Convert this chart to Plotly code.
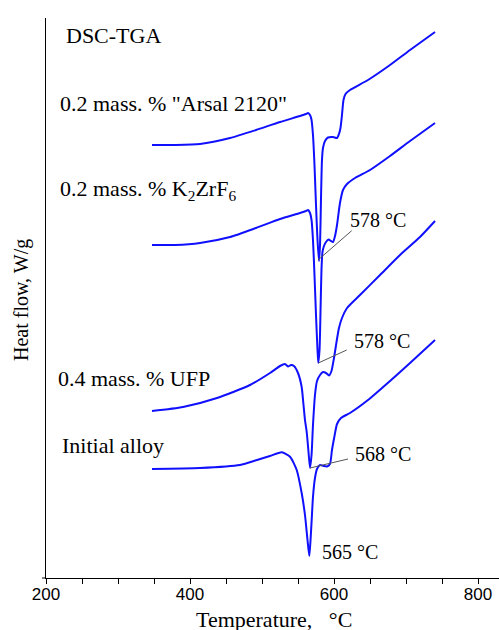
import plotly.graph_objects as go

# ---- data (temperature in °C, heat flow in arbitrary W/g units) ----
arsal_T = [347.2, 379.2, 413.9, 455.6, 491.7, 525.0, 552.8, 561.1, 563.9, 566.7, 568.8, 570.8,
           572.9, 575.0, 577.1, 579.2, 580.6, 581.9, 583.3, 584.7, 587.5, 591.7, 598.6, 604.2,
           606.9, 609.0, 611.1, 613.2, 616.0, 622.2, 647.2, 677.8, 705.6, 740.3]
arsal_H = [4.33, 4.33, 4.34, 4.40, 4.48, 4.56, 4.62, 4.64, 4.65, 4.63, 4.58, 4.43,
           4.13, 3.73, 3.38, 3.17, 3.33, 3.78, 4.18, 4.30, 4.37, 4.405, 4.41, 4.40,
           4.44, 4.50, 4.63, 4.78, 4.84, 4.88, 4.98, 5.13, 5.28, 5.46]

kzr_T = [347.2, 379.2, 413.9, 455.6, 491.7, 525.0, 552.8, 561.1, 563.9, 566.7, 568.8, 570.8,
         572.9, 575.0, 577.1, 578.2, 579.9, 581.3, 582.6, 584.0, 586.1, 588.9, 592.4, 595.8,
         598.6, 601.4, 604.2, 608.3, 612.5, 618.1, 629.2, 650.0, 677.8, 705.6, 740.3]
kzr_H = [3.33, 3.33, 3.35, 3.41, 3.50, 3.59, 3.65, 3.67, 3.68, 3.65, 3.58, 3.38,
         3.03, 2.63, 2.28, 2.15, 2.28, 2.68, 3.08, 3.26, 3.32, 3.36, 3.385, 3.37,
         3.36, 3.42, 3.53, 3.75, 3.88, 3.94, 4.00, 4.08, 4.22, 4.37, 4.55]

ufp_T = [347.2, 390.3, 437.5, 483.3, 511.1, 525.0, 531.9, 536.1, 540.3, 544.4, 550.0, 555.1,
         557.4, 559.7, 562.1, 564.6, 566.7, 568.8, 570.8, 573.6, 576.4, 580.6, 584.7, 588.9,
         593.1, 596.5, 600.0, 603.5, 606.9, 611.1, 618.1, 636.1, 663.9, 691.7, 719.4, 740.3]
ufp_H = [1.67, 1.71, 1.80, 1.93, 2.05, 2.12, 2.14, 2.115, 2.13, 2.12, 2.05, 1.91,
         1.75, 1.58, 1.46, 1.26, 1.10, 1.23, 1.53, 1.83, 1.97, 2.03, 2.06, 2.05,
         2.025, 2.07, 2.20, 2.36, 2.50, 2.60, 2.70, 2.83, 3.03, 3.23, 3.41, 3.57]

init_T = [347.2, 413.9, 469.4, 493.1, 511.1, 527.4, 538.9, 548.2, 555.1, 559.7, 563.2, 565.7,
          567.4, 569.0, 570.8, 573.6, 576.4, 580.6, 585.4, 590.3, 594.4, 597.2, 600.7, 604.2,
          609.7, 622.2, 647.2, 677.8, 705.6, 740.3]
init_H = [1.09, 1.10, 1.13, 1.18, 1.22, 1.257, 1.213, 1.08, 0.85, 0.63, 0.38, 0.22,
          0.38, 0.58, 0.81, 1.00, 1.09, 1.13, 1.12, 1.115, 1.14, 1.28, 1.42, 1.54,
          1.60, 1.65, 1.78, 1.97, 2.15, 2.38]

series_names = ['0.2 mass. % "Arsal 2120"', '0.2 mass. % K<sub>2</sub>ZrF<sub>6</sub>',
                '0.4 mass. % UFP', 'Initial alloy']

peak_labels = ["578 °C", "578 °C", "568 °C", "565 °C"]
peak_T = [577.8, 578.2, 566.7, 565.7]
peak_H = [3.18, 2.15, 1.10, 0.22]

x_major_dtick = 200
x_minor_dtick = 50

# ---- figure ----
BLUE = "#1010ff"
SERIF = "Liberation Serif, Times New Roman, serif"
SANS = "Liberation Sans, Arial, sans-serif"

fig = go.Figure()
for T, H in [(arsal_T, arsal_H), (kzr_T, kzr_H), (ufp_T, ufp_H), (init_T, init_H)]:
    fig.add_trace(go.Scatter(x=T, y=H, mode="lines",
                             line=dict(color=BLUE, width=2, shape="spline", smoothing=0.6),
                             showlegend=False, hoverinfo="skip"))

W, Hh = 499, 630
L, R, TOP, B = 46, 0, 18, 52
pw, ph = W - L - R, Hh - TOP - B

fig.update_layout(
    width=W, height=Hh,
    margin=dict(l=L, r=R, t=TOP, b=B, pad=0),
    paper_bgcolor="white", plot_bgcolor="white",
    showlegend=False,
    xaxis=dict(range=[200, 200 + pw / 0.72], tick0=200, dtick=x_major_dtick,
               ticks="outside", ticklen=5, tickwidth=1, tickcolor="black",
               minor=dict(ticks="outside", ticklen=5, tickwidth=1, tickcolor="black",
                          dtick=x_minor_dtick, tick0=200, showgrid=False),
               ticklabelstandoff=-4,
               showline=True, linecolor="black", linewidth=1,
               showgrid=False, zeroline=False, automargin=False,
               tickfont=dict(family=SANS, size=17, color="black")),
    yaxis=dict(range=[0, ph / 100], showticklabels=False, ticks="",
               showline=True, linecolor="black", linewidth=1,
               showgrid=False, zeroline=False, automargin=False),
)

# small extension of the x axis line to the left of the y axis
fig.add_shape(type="line", xref="paper", yref="paper", x0=-4 / pw, x1=0, y0=0, y1=0,
              line=dict(color="black", width=1))

def px2paper_x(p):
    return (p - L) / pw

def px2paper_y(p):
    return (Hh - B - p) / ph

# left-side text labels
left_texts = [("DSC-TGA", 64, 35.5)] + [
    (series_names[0], 58, 103.5), (series_names[1], 58, 189.5),
    (series_names[2], 56, 378.5), (series_names[3], 60, 445.5)]
for txt, xp, yp in left_texts:
    fig.add_annotation(text=txt, xref="paper", yref="paper",
                       x=px2paper_x(xp), y=px2paper_y(yp), xanchor="left", yanchor="middle",
                       showarrow=False, font=dict(family=SERIF, size=22, color="black"))

# peak labels with leader lines
label_pos = [(348, 220), (352, 341), (353, 454), (320, 552)]
leader_end = [(351.7, 230.7), (346.7, 350.0), (348.0, 459.0), None]
for i, lab in enumerate(peak_labels):
    xp, yp = label_pos[i]
    fig.add_annotation(text=lab, xref="paper", yref="paper",
                       x=px2paper_x(xp), y=px2paper_y(yp), xanchor="left", yanchor="middle",
                       showarrow=False, font=dict(family=SERIF, size=20, color="black"))
    if leader_end[i] is not None:
        ex, ey = leader_end[i]
        fig.add_shape(type="line", xref="x", yref="y",
                      x0=peak_T[i], y0=peak_H[i],
                      x1=200 + (ex - L) / 0.72, y1=(Hh - B - ey) / 100,
                      line=dict(color="#555555", width=1))

# axis titles
fig.add_annotation(text="Temperature,\u00a0\u00a0 °C", xref="paper", yref="paper",
                   x=px2paper_x(273.5), y=px2paper_y(619), xanchor="center", yanchor="middle",
                   showarrow=False, font=dict(family=SERIF, size=22, color="black"))
fig.add_annotation(text="Heat flow, W/g", xref="paper", yref="paper", textangle=-90,
                   x=px2paper_x(21), y=px2paper_y(300), xanchor="center", yanchor="middle",
                   showarrow=False, font=dict(family=SERIF, size=20, color="black"))

fig.write_html("out.html", config={"displayModeBar": False},
               post_script="document.body.style.margin='0px';")
